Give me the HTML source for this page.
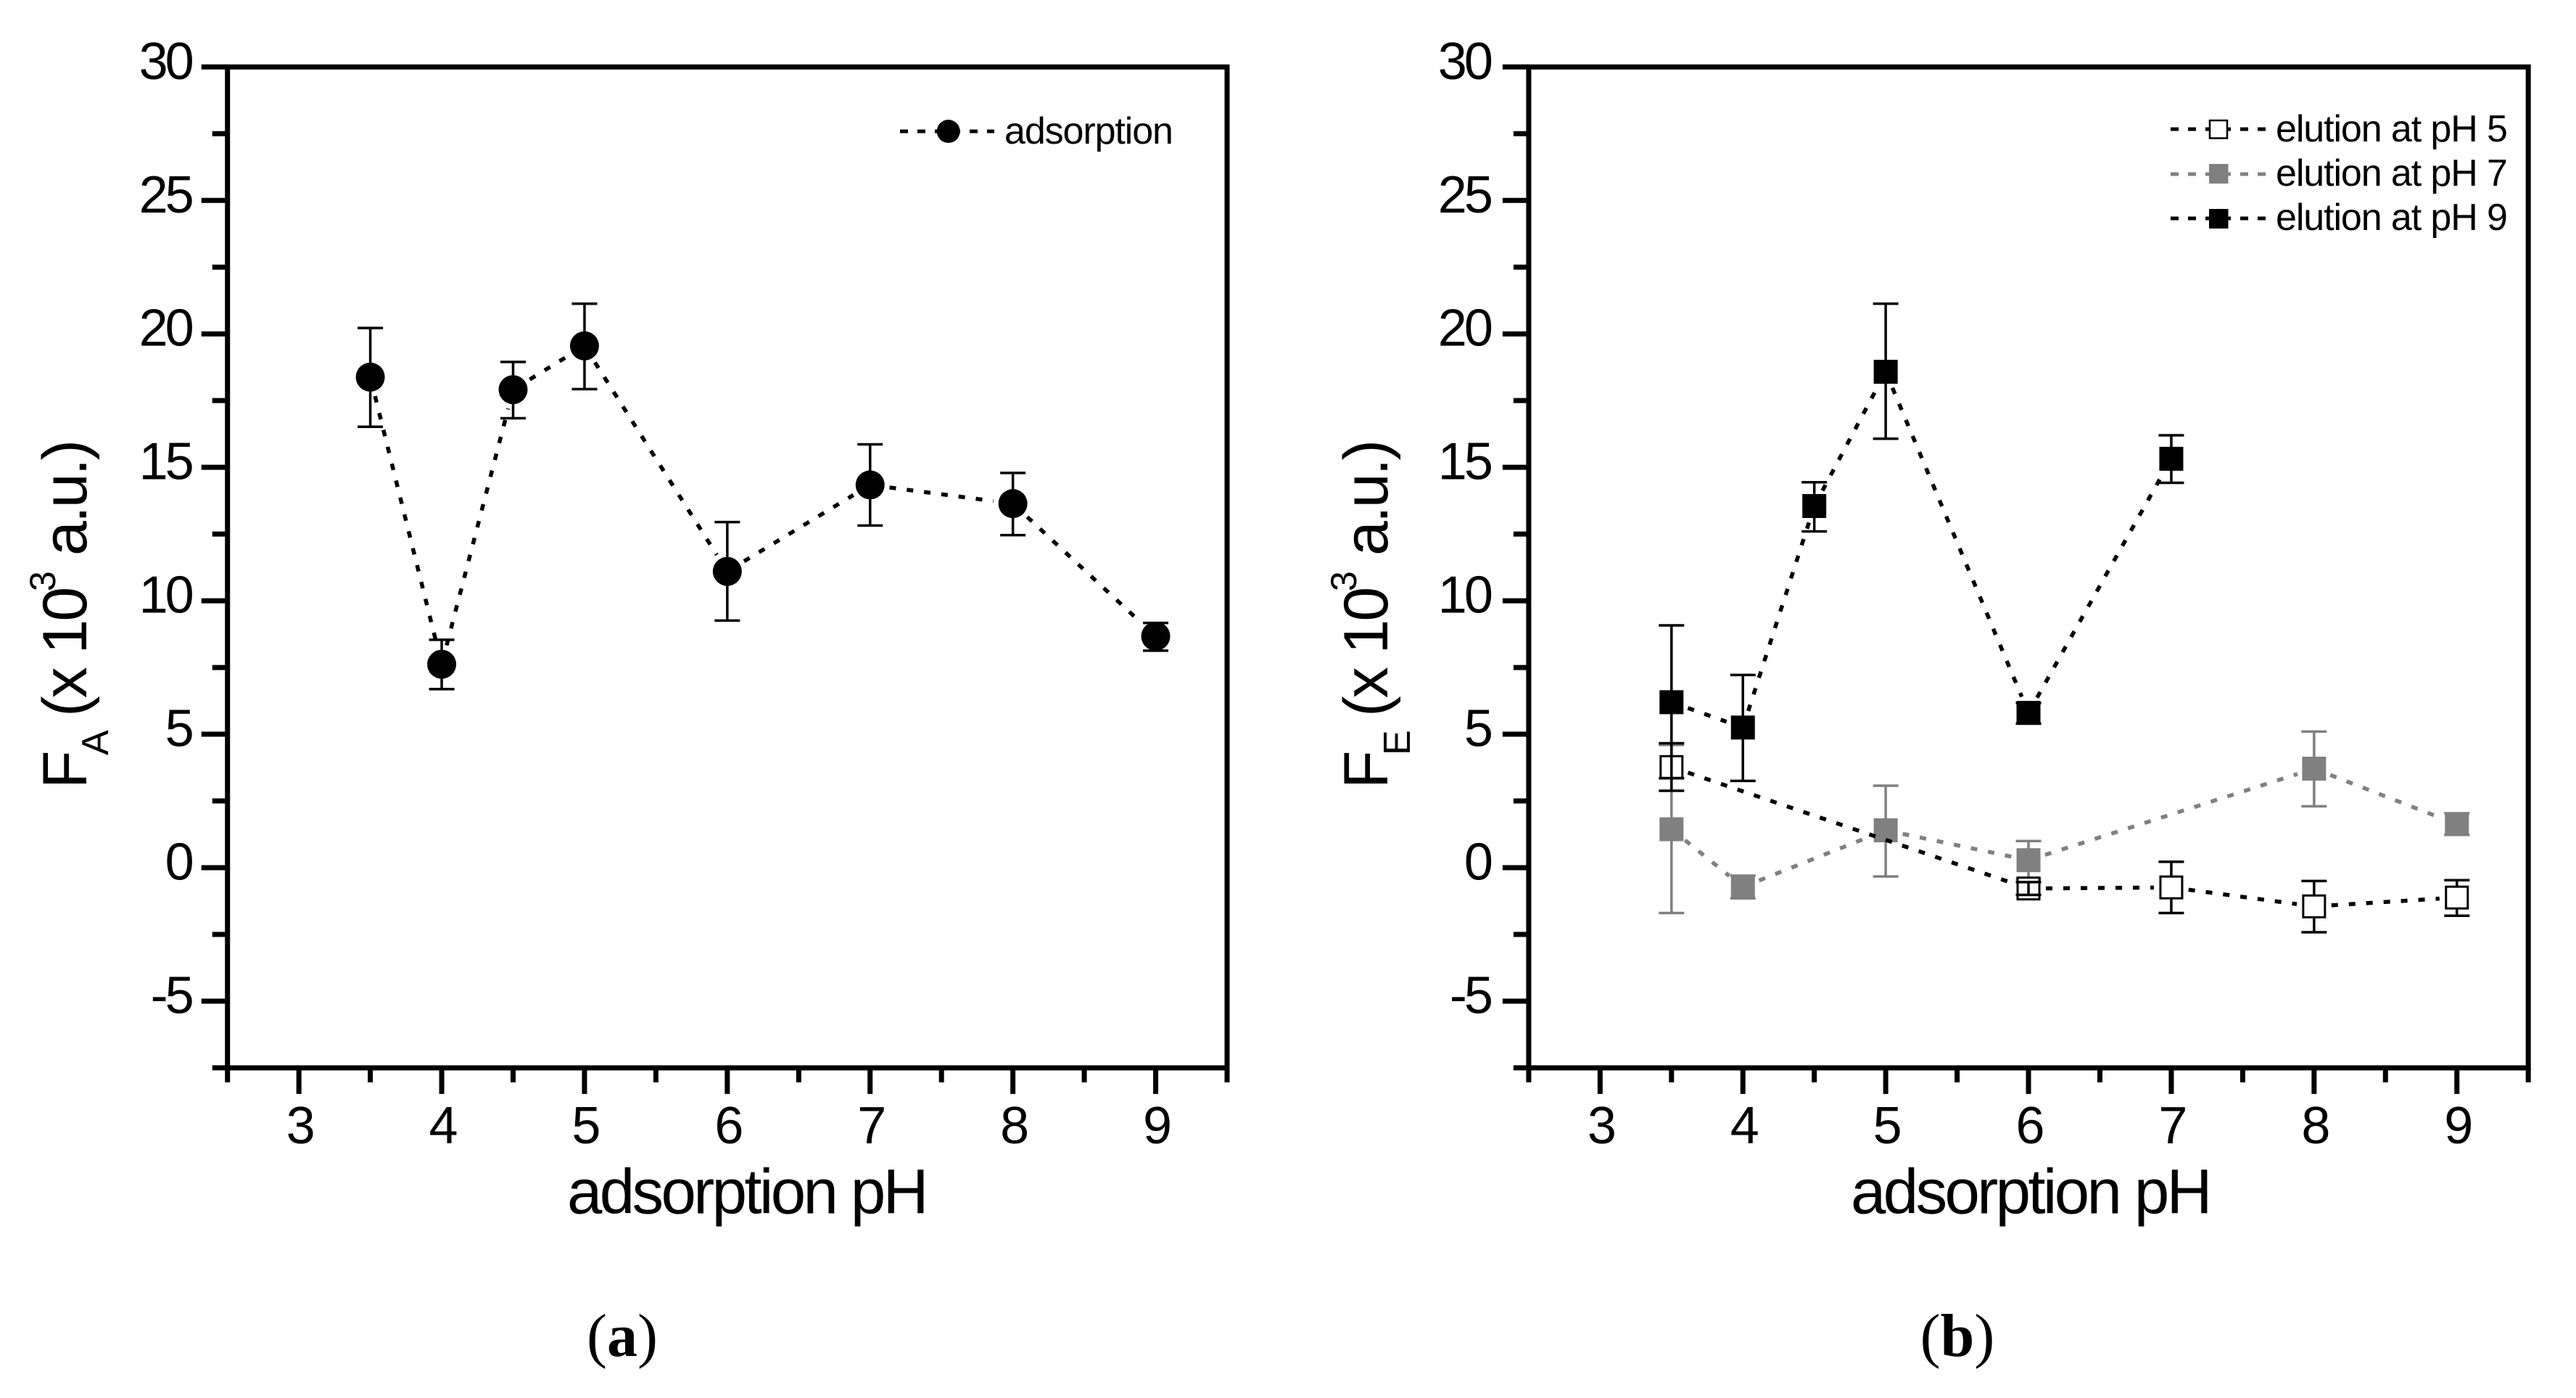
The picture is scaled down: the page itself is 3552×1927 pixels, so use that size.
<!DOCTYPE html>
<html lang="en">
<head>
<meta charset="utf-8">
<title>Fluorescence versus adsorption pH</title>
<style>
html,body{margin:0;padding:0;background:#fff;width:3552px;height:1927px;overflow:hidden}
svg{display:block}
text{font-family:"Liberation Sans",Arial,sans-serif;fill:#000}
.cap{font-family:"Liberation Serif","Times New Roman",serif}
.yl{font-size:86px;letter-spacing:-3px}
.xl{font-size:87px;letter-spacing:-3.6px}
.lg{font-size:52px;letter-spacing:-1.1px}
</style>
</head>
<body>
<svg id="fig" xmlns="http://www.w3.org/2000/svg" width="3552" height="1927" viewBox="0 0 3552 1927">
  <rect width="3552" height="1927" fill="#fff"/>
  <g id="panelA"></g>
  <g id="panelB"></g>

  <text class="yl" transform="translate(119,1087) rotate(-90)"><tspan x="0" y="0">F</tspan><tspan x="46" y="30" font-size="52" letter-spacing="0">A</tspan><tspan x="99" y="0">(x 10</tspan><tspan x="272" y="-43" font-size="50" letter-spacing="0">3</tspan><tspan x="321" y="0">a.u.)</tspan></text>
  <text class="yl" transform="translate(1913,1087) rotate(-90)"><tspan x="0" y="0">F</tspan><tspan x="46" y="31" font-size="52" letter-spacing="0">E</tspan><tspan x="99" y="0">(x 10</tspan><tspan x="272" y="-43" font-size="50" letter-spacing="0">3</tspan><tspan x="321" y="0">a.u.)</tspan></text>

  <text class="xl" x="782" y="1672.5">adsorption pH</text>
  <text class="xl" x="2552" y="1672.5">adsorption pH</text>

  <text class="cap" x="858" y="1869" font-size="84" text-anchor="middle">(<tspan font-weight="bold">a</tspan>)</text>
  <text class="cap" x="2699" y="1869" font-size="84" text-anchor="middle">(<tspan font-weight="bold">b</tspan>)</text>

  <g>
    <line x1="1241" y1="181" x2="1371" y2="181" stroke="#000" stroke-width="5" stroke-dasharray="11 13"/>
    <circle cx="1307.7" cy="181" r="16" fill="#000"/>
    <text class="lg" x="1385" y="198">adsorption</text>
  </g>
  <g>
    <line x1="2993" y1="178" x2="3124" y2="178" stroke="#000" stroke-width="5" stroke-dasharray="11 13"/>
    <rect x="3047" y="166" width="24" height="24.5" fill="#fff" stroke="#000" stroke-width="2.5"/>
    <text class="lg" x="3138" y="195">elution at pH 5</text>
    <line x1="2993" y1="240" x2="3124" y2="240" stroke="#808080" stroke-width="5" stroke-dasharray="11 13"/>
    <rect x="3046" y="226" width="26.5" height="27" fill="#808080"/>
    <text class="lg" x="3138" y="256">elution at pH 7</text>
    <line x1="2993" y1="301" x2="3124" y2="301" stroke="#000" stroke-width="5" stroke-dasharray="11 13"/>
    <rect x="3046" y="288" width="26.5" height="27" fill="#000"/>
    <text class="lg" x="3138" y="317">elution at pH 9</text>
  </g>
</svg>

<script>
// Axis tick values
var xMajorTicks = [3, 4, 5, 6, 7, 8, 9];
var xMinorTicks = [2.5, 3.5, 4.5, 5.5, 6.5, 7.5, 8.5, 9.5];
var yMajorTicks = [30, 25, 20, 15, 10, 5, 0, -5];
var yMinorTicks = [27.5, 22.5, 17.5, 12.5, 7.5, 2.5, -2.5, -7.5];

// Panel (a): adsorption
var adsorptionPH = [3.5, 4, 4.5, 5, 6, 7, 8, 9];
var adsorptionF  = [18.38, 7.62, 17.91, 19.55, 11.10, 14.34, 13.64, 8.67];
var adsorptionHi = [20.22, 8.54, 18.95, 21.13, 12.95, 15.86, 14.79, 9.17];
var adsorptionLo = [16.52, 6.69, 16.84, 17.93, 9.26, 12.82, 12.46, 8.13];

// Panel (b): elution at pH 7
var elution7PH = [3.5, 4, 5, 6, 8, 9];
var elution7F  = [1.44, -0.72, 1.40, 0.28, 3.71, 1.63];
var elution7Hi = [4.60, -0.30, 3.07, 1.00, 5.10, 2.04];
var elution7Lo = [-1.70, -1.15, -0.33, -0.42, 2.30, 1.23];

// Panel (b): elution at pH 5
var elution5PH = [3.5, 6, 7, 8, 9];
var elution5F  = [3.77, -0.78, -0.74, -1.45, -1.12];
var elution5Hi = [4.66, -0.54, 0.22, -0.50, -0.47];
var elution5Lo = [2.88, -1.02, -1.70, -2.42, -1.80];
var elution5BarsOverMarker = [6];

// Panel (b): elution at pH 9
var elution9PH = [3.5, 4, 4.5, 5, 6, 7];
var elution9F  = [6.20, 5.25, 13.55, 18.58, 5.80, 15.32];
var elution9Hi = [9.08, 7.22, 14.44, 21.13, 6.17, 16.20];
var elution9Lo = [3.35, 3.25, 12.60, 16.07, 5.40, 14.42];

var SVGNS = 'http://www.w3.org/2000/svg';

function yScale(v) {
  return 92.3 + (30 - v) * 36.79;
}
function xScale(ph, offset) {
  return 313.7 + (ph - 2.5) * 196.9 + offset;
}
function addLine(parent, x1, y1, x2, y2, color, width) {
  var el = document.createElementNS(SVGNS, 'line');
  el.setAttribute('x1', x1);
  el.setAttribute('y1', y1);
  el.setAttribute('x2', x2);
  el.setAttribute('y2', y2);
  el.setAttribute('stroke', color);
  el.setAttribute('stroke-width', width);
  parent.appendChild(el);
  return el;
}
function addText(parent, x, y, str, anchor) {
  var el = document.createElementNS(SVGNS, 'text');
  el.setAttribute('x', x);
  el.setAttribute('y', y);
  el.setAttribute('font-size', '72');
  el.setAttribute('letter-spacing', '-4');
  el.setAttribute('text-anchor', anchor);
  el.textContent = str;
  parent.appendChild(el);
  return el;
}

function drawAxes(parent, offset, labelShift) {
  var L = xScale(2.5, offset), R = xScale(9.5, offset);
  var T = yScale(30), B = yScale(-7.5);
  var frame = document.createElementNS(SVGNS, 'rect');
  
  
  frame.setAttribute('x', L);
  frame.setAttribute('y', T);
  frame.setAttribute('width', R - L);
  frame.setAttribute('height', B - T);
  frame.setAttribute('fill', 'none');
  frame.setAttribute('stroke', '#000');
  frame.setAttribute('stroke-width', '7');
  parent.appendChild(frame);

  yMajorTicks.forEach(function (v) {
    var t = addLine(parent, L - 36, yScale(v), L, yScale(v), '#000', 7);
    
    
    var lab = addText(parent, L - 50 + labelShift, yScale(v) + 16.5, String(v), 'end');
    
    
  });
  yMinorTicks.forEach(function (v) {
    var t = addLine(parent, L - 21, yScale(v), L, yScale(v), '#000', 7);
    
    
  });
  xMajorTicks.forEach(function (v) {
    var x = xScale(v, offset);
    var t = addLine(parent, x, B, x, B + 36, '#000', 7);
    
    
    var lab = addText(parent, x + 0.5, 1576, String(v), 'middle');
    
    
  });
  xMinorTicks.forEach(function (v) {
    var x = xScale(v, offset);
    var t = addLine(parent, x, B, x, B + 20, '#000', 7);
    
    
  });
}

function drawErrorBar(parent, x, hi, lo, color, name) {
  var g = document.createElementNS(SVGNS, 'g');
  
  
  addLine(g, x, yScale(hi), x, yScale(lo), color, 3.5);
  addLine(g, x - 17.5, yScale(hi), x + 17.5, yScale(hi), color, 3.5);
  addLine(g, x - 17.5, yScale(lo), x + 17.5, yScale(lo), color, 3.5);
  parent.appendChild(g);
}

function drawSeries(parent, offset, phs, vals, his, los, color, shape, name, barsOver) {
  var gap = shape === 'circle' ? 27 : 24;
  for (var i = 0; i < phs.length - 1; i++) {
    var x0 = xScale(phs[i], offset), y0 = yScale(vals[i]);
    var x1 = xScale(phs[i + 1], offset), y1 = yScale(vals[i + 1]);
    var d = Math.sqrt((x1 - x0) * (x1 - x0) + (y1 - y0) * (y1 - y0));
    var ux = (x1 - x0) / d, uy = (y1 - y0) / d;
    var seg = addLine(parent, x0 + ux * gap, y0 + uy * gap, x1 - ux * gap, y1 - uy * gap, color, 5.5);
    seg.setAttribute('stroke-dasharray', '9 15');
    
    
  }
  phs.forEach(function (ph, j) {
    var x = xScale(ph, offset), y = yScale(vals[j]);
    var over = barsOver && barsOver.indexOf(ph) >= 0;
    if (!over) drawErrorBar(parent, x, his[j], los[j], color, name);
    var m;
    if (shape === 'circle') {
      m = document.createElementNS(SVGNS, 'circle');
      m.setAttribute('cx', x);
      m.setAttribute('cy', y);
      m.setAttribute('r', 20);
      m.setAttribute('fill', color);
    } else if (shape === 'open') {
      m = document.createElementNS(SVGNS, 'rect');
      m.setAttribute('x', x - 15);
      m.setAttribute('y', y - 15);
      m.setAttribute('width', 30);
      m.setAttribute('height', 30);
      m.setAttribute('fill', '#fff');
      m.setAttribute('stroke', color);
      m.setAttribute('stroke-width', 3);
    } else {
      m = document.createElementNS(SVGNS, 'rect');
      m.setAttribute('x', x - 16.5);
      m.setAttribute('y', y - 16.5);
      m.setAttribute('width', 33);
      m.setAttribute('height', 33);
      m.setAttribute('fill', color);
    }
    
    
    parent.appendChild(m);
    if (over) drawErrorBar(parent, x, his[j], los[j], color, name);
  });
}

var panelA = document.getElementById('panelA');
var panelB = document.getElementById('panelB');
var OFFSET_B = 1794.2;

drawAxes(panelA, 0, 0);
drawSeries(panelA, 0, adsorptionPH, adsorptionF, adsorptionHi, adsorptionLo, '#000', 'circle', 'adsorption');

drawAxes(panelB, OFFSET_B, -3);
drawSeries(panelB, OFFSET_B, elution7PH, elution7F, elution7Hi, elution7Lo, '#808080', 'filled', 'elution-ph7');
drawSeries(panelB, OFFSET_B, elution5PH, elution5F, elution5Hi, elution5Lo, '#000', 'open', 'elution-ph5', elution5BarsOverMarker);
drawSeries(panelB, OFFSET_B, elution9PH, elution9F, elution9Hi, elution9Lo, '#000', 'filled', 'elution-ph9');
</script>
</body>
</html>
